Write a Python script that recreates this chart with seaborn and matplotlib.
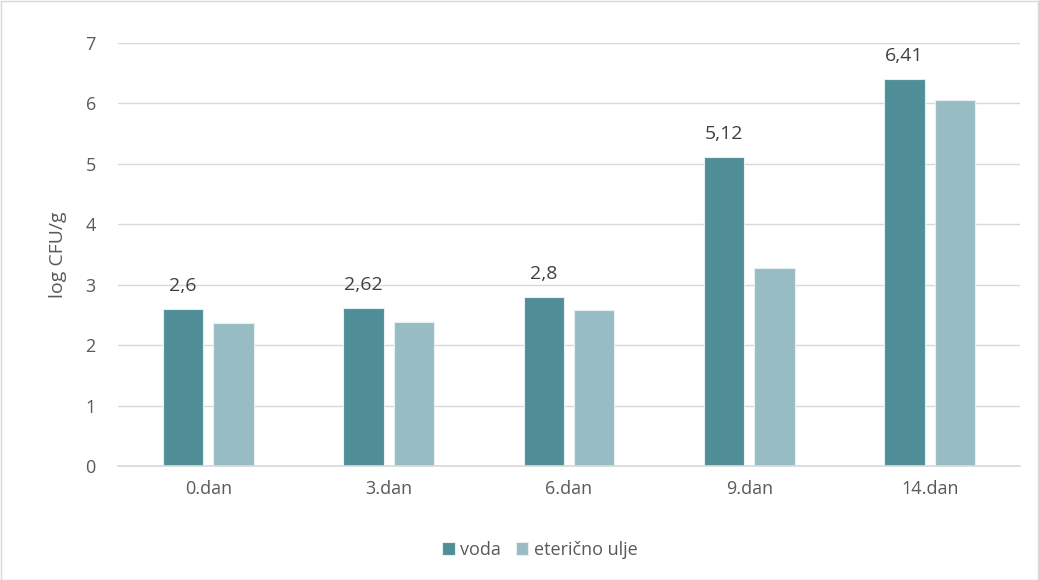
import matplotlib
matplotlib.use("Agg")
import matplotlib.pyplot as plt
import seaborn as sns
import pandas as pd
from matplotlib.patches import Rectangle

categories = ["0.dan", "3.dan", "6.dan", "9.dan", "14.dan"]
voda = [2.6, 2.62, 2.8, 5.12, 6.41]
ulje = [2.37, 2.38, 2.58, 3.27, 6.05]
series_names = ["voda", "eterično ulje"]
voda_labels = ["2,6", "2,62", "2,8", "5,12", "6,41"]

df = pd.DataFrame({
    "dan": categories * 2,
    "val": voda + ulje,
    "serija": [series_names[0]] * len(categories) + [series_names[1]] * len(categories),
})

sns.set_theme(style="white")
plt.rcParams['font.family'] = ['Open Sans', 'DejaVu Sans']
txt = "#595959"

fig = plt.figure(figsize=(10.39, 5.8), dpi=100)
ax = fig.add_axes([118/1039, 1-466/580, (1020-118)/1039, (466-43)/580])

palette = {"voda": "#4F8E97", "eterično ulje": "#98BCC3"}
sns.barplot(data=df, x="dan", y="val", hue="serija", order=categories,
            hue_order=series_names, palette=palette, width=0.56, gap=0.2,
            saturation=1, edgecolor="#E6F0F2", linewidth=0.8, ax=ax, legend=True)

ax.set_ylim(0, 7)
ax.set_xlim(-0.5, 4.5)
ax.set_yticks(range(0, 8))
ax.yaxis.grid(True, color="#D9D9D9", linewidth=1)
ax.set_axisbelow(True)
for s in ["top", "right", "left"]:
    ax.spines[s].set_visible(False)
ax.spines["bottom"].set_color("#D9D9D9")
ax.tick_params(axis="both", colors=txt, labelsize=13, length=0)
ax.tick_params(axis="x", pad=10)
ax.tick_params(axis="y", pad=16)
ax.set_xlabel("")
ax.set_ylabel("log CFU/g", color=txt, fontsize=14, labelpad=13)

cont = ax.containers[0]
ax.bar_label(cont, labels=voda_labels, padding=10, color="#404040", fontsize=14)

handles, labels = ax.get_legend_handles_labels()
ax.legend(handles, labels, loc="center", bbox_to_anchor=(540/1039, 1-550/580),
          bbox_transform=fig.transFigure, ncol=2, frameon=False,
          fontsize=13, handlelength=0.7, handleheight=0.7, handletextpad=0.3,
          columnspacing=0.8, labelcolor=txt)

fig.patches.append(Rectangle((0.5/1039, 0.5/580), 1-1.5/1039, 1-1.5/580,
                             transform=fig.transFigure, fill=False,
                             edgecolor="#D9D9D9", linewidth=1))

fig.savefig("out.png", dpi=100, facecolor="white")
